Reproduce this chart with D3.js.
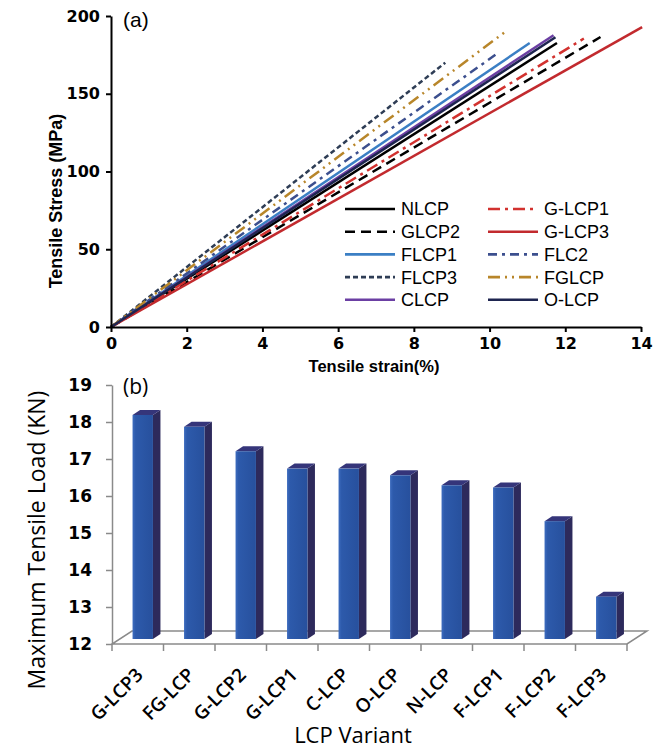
<!DOCTYPE html>
<html>
<head>
<meta charset="utf-8">
<script src="https://cdn.jsdelivr.net/npm/d3@7"></script>
<style>
  html, body { margin: 0; padding: 0; background: #fff; }
  svg { display: block; }
</style>
</head>
<body>
<svg id="chart" width="667" height="751"></svg>
<script>
// ---------- Panel (a) data ----------
const seriesNames = ["NLCP", "GLCP2", "FLCP1", "FLCP3", "CLCP", "G-LCP1", "G-LCP3", "FLC2", "FGLCP", "O-LCP"];
const seriesStrain = [
  [0, 11.78], [0, 12.93], [0, 11.06], [0, 8.83], [0, 11.69],
  [0, 12.49], [0, 14.03], [0, 10.20], [0, 10.44], [0, 11.74]
];
const seriesStress = [
  [0, 182.6], [0, 186.5], [0, 182.6], [0, 170.0], [0, 187.6],
  [0, 185.5], [0, 192.9], [0, 175.8], [0, 190.3], [0, 186.3]
];
const seriesColors = ["#000000", "#000000", "#3b7fc4", "#2e3d55", "#6b3fa3",
                      "#d2322f", "#c22a2e", "#3c4f8e", "#b8862a", "#1e2550"];
const seriesDash = ["", "10,6", "", "5,3", "", "12,5,3,5", "", "9,5,3,5", "12,5,2,5,2,5", ""];
const strainTicks = [0, 2, 4, 6, 8, 10, 12, 14];
const stressTicks = [0, 50, 100, 150, 200];

// ---------- Panel (b) data ----------
const variants = ["G-LCP3", "FG-LCP", "G-LCP2", "G-LCP1", "C-LCP", "O-LCP", "N-LCP", "F-LCP1", "F-LCP2", "F-LCP3"];
const loads = [18.19, 17.87, 17.21, 16.74, 16.74, 16.56, 16.29, 16.23, 15.32, 13.28];
const loadTicks = [12, 13, 14, 15, 16, 17, 18, 19];

const svg = d3.select("#chart");

// ===================== Panel (a) =====================
const xA = d3.scaleLinear().domain([0, 14]).range([111, 641]);
const yA = d3.scaleLinear().domain([0, 200]).range([327, 16]);
const gA = svg.append("g");

const line = d3.line().x(d => xA(d[0])).y(d => yA(d[1]));
seriesNames.forEach((name, i) => {
  const pts = seriesStrain[i].map((s, j) => [s, seriesStress[i][j]]);
  gA.append("path")
    .attr("d", line(pts))
    .attr("fill", "none")
    .attr("stroke", seriesColors[i])
    .attr("stroke-width", 2.5)
    .attr("stroke-dasharray", seriesDash[i] || null);
});

const axAy = gA.append("g").attr("transform", "translate(111,0)")
  .call(d3.axisLeft(yA).tickValues(stressTicks).tickSize(5).tickPadding(6).tickSizeOuter(0));
const axAx = gA.append("g").attr("transform", "translate(0,327)")
  .call(d3.axisBottom(xA).tickValues(strainTicks).tickSize(5).tickPadding(6).tickSizeOuter(0));
[axAy, axAx].forEach(ax => {
  ax.select(".domain").attr("stroke", "#000").attr("stroke-width", 2);
  ax.selectAll(".tick line").attr("stroke", "#000").attr("stroke-width", 2);
  ax.selectAll(".tick text").attr("fill", "#000")
    .style("font-family", "'DejaVu Sans', sans-serif").style("font-weight", "bold").style("font-size", "16px");
});

gA.append("text").attr("x", 123).attr("y", 27)
  .style("font-family", "'Liberation Sans', Arial, sans-serif").style("font-size", "21px")
  .text("(a)");

gA.append("text")
  .attr("transform", "translate(62,201) rotate(-90)")
  .attr("text-anchor", "middle")
  .style("font-family", "'Liberation Sans', Arial, sans-serif").style("font-weight", "bold").style("font-size", "18px")
  .text("Tensile Stress (MPa)");

gA.append("text").attr("x", 374).attr("y", 372).attr("text-anchor", "middle")
  .style("font-family", "'Liberation Sans', Arial, sans-serif").style("font-weight", "bold").style("font-size", "16.5px")
  .text("Tensile strain(%)");

// Legend
const legend = gA.append("g");
seriesNames.forEach((name, i) => {
  const col = Math.floor(i / 5), row = i % 5;
  const x0 = col === 0 ? 345 : 488;
  const y = 209 + row * 22.7;
  legend.append("line")
    .attr("x1", x0).attr("x2", x0 + 50).attr("y1", y).attr("y2", y)
    .attr("stroke", seriesColors[i]).attr("stroke-width", 2.6)
    .attr("stroke-dasharray", seriesDash[i] || null);
  legend.append("text").attr("x", x0 + 56).attr("y", y).attr("dy", "0.36em")
    .style("font-family", "'Liberation Sans', Arial, sans-serif").style("font-size", "18px")
    .text(name);
});

// ===================== Panel (b) =====================
const yB = d3.scaleLinear().domain([12, 19]).range([644, 385]);
const xB = d3.scaleBand().domain(variants).range([112, 627]).paddingInner(0).paddingOuter(0);
const gB = svg.append("g");
const gray = "#8a8a8a";
const depth = [20, -13];

// floor
gB.append("path")
  .attr("d", `M${xB.range()[0]},${yB(12)} L${xB.range()[1]},${yB(12)} L${xB.range()[1] + depth[0]},${yB(12) + depth[1]} L${xB.range()[0] + depth[0]},${yB(12) + depth[1]} Z`)
  .attr("fill", "none").attr("stroke", gray).attr("stroke-width", 1.5);

// gradient for bar front
const defs = svg.append("defs");
const grad = defs.append("linearGradient").attr("id", "barFront").attr("x1", "0").attr("x2", "1").attr("y1", "0").attr("y2", "0");
grad.append("stop").attr("offset", "0").attr("stop-color", "#3d6cbf");
grad.append("stop").attr("offset", "0.15").attr("stop-color", "#2d5aab");
grad.append("stop").attr("offset", "1").attr("stop-color", "#27509d");

const barW = 20.4, shiftX = 5, shiftY = -5, dX = 7.5, dY = -5;
variants.forEach((v, i) => {
  const cx = xB(v) + xB.bandwidth() / 2 + shiftX;
  const x0 = cx - barW / 2, x1 = cx + barW / 2;
  const top = yB(loads[i]);
  const bot = yB(12) + shiftY;
  const g = gB.append("g");
  g.append("path")
    .attr("d", `M${x1},${top} L${x1 + dX},${top + dY} L${x1 + dX},${bot + dY} L${x1},${bot} Z`)
    .attr("fill", "#2d2a5c");
  g.append("path")
    .attr("d", `M${x0},${top} L${x0 + dX},${top + dY} L${x1 + dX},${top + dY} L${x1},${top} Z`)
    .attr("fill", "#35357a");
  g.append("rect")
    .attr("x", x0).attr("y", top).attr("width", barW).attr("height", bot - top)
    .attr("fill", "url(#barFront)");
});

// y axis (b)
const axBy = gB.append("g").attr("transform", "translate(112,0)")
  .call(d3.axisLeft(yB).tickValues(loadTicks).tickFormat(d3.format("d")).tickSize(6).tickPadding(14).tickSizeOuter(0));
axBy.select(".domain").attr("stroke", gray).attr("stroke-width", 1.5);
axBy.selectAll(".tick line").attr("stroke", gray).attr("stroke-width", 1.5);
axBy.selectAll(".tick text").attr("fill", "#000")
  .style("font-family", "'DejaVu Sans', sans-serif").style("font-weight", "bold").style("font-size", "17px");

// x ticks at band boundaries
const boundaries = variants.map(v => xB(v)).concat([xB.range()[1]]);
gB.selectAll(".xtick").data(boundaries).enter().append("line")
  .attr("x1", d => d).attr("x2", d => d).attr("y1", yB(12)).attr("y2", yB(12) + 7)
  .attr("stroke", gray).attr("stroke-width", 1.5);

// category labels
gB.selectAll(".xlab").data(variants).enter().append("text")
  .attr("transform", d => `translate(${xB(d) + xB.bandwidth() / 2 + 6.5},676) rotate(-45)`)
  .attr("text-anchor", "end")
  .style("font-family", "'Open Sans', sans-serif").style("font-weight", "600").style("font-size", "19px")
  .text(d => d);

gB.append("text").attr("x", 123).attr("y", 394)
  .style("font-family", "'Open Sans', sans-serif").style("font-size", "21px")
  .text("(b)");

gB.append("text")
  .attr("transform", "translate(45,540) rotate(-90)")
  .attr("text-anchor", "middle")
  .style("font-family", "'Open Sans', sans-serif").style("font-size", "23px")
  .text("Maximum Tensile Load (KN)");

gB.append("text").attr("x", 353).attr("y", 743).attr("text-anchor", "middle")
  .style("font-family", "'Open Sans', sans-serif").style("font-size", "22px")
  .text("LCP Variant");
</script>
</body>
</html>
